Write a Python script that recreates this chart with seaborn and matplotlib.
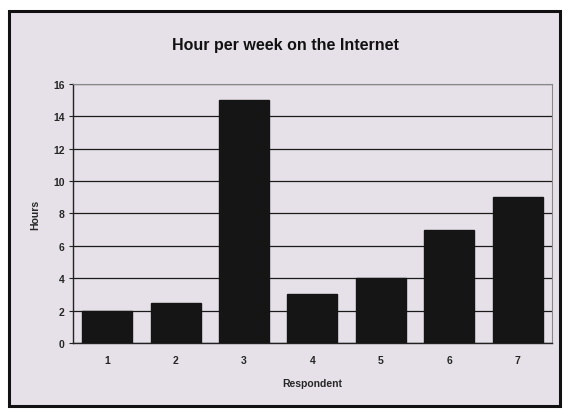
import matplotlib
matplotlib.use("Agg")
import matplotlib.pyplot as plt
import seaborn as sns
import pandas as pd
from matplotlib.patches import Rectangle

respondents = ["1", "2", "3", "4", "5", "6", "7"]
hours = [2, 2.5, 15, 3, 4, 7, 9]
y_ticks = [0, 2, 4, 6, 8, 10, 12, 14, 16]

title = "Hour per week on the Internet"
x_label = "Respondent"
y_label = "Hours"

bg = "#e6e1e8"
bar_color = "#151515"

sns.set_theme(style="white")
plt.rcParams["font.family"] = ["Liberation Sans", "DejaVu Sans"]

df = pd.DataFrame({"Respondent": respondents, "Hours": hours})

fig = plt.figure(figsize=(5.67, 4.10), dpi=100)
fig.patch.set_facecolor("white")

# chart frame, drawn behind the axes
frame = Rectangle((0.016, 0.008), 0.972, 0.962, transform=fig.transFigure,
                  facecolor=bg, edgecolor="#111111", linewidth=2.2, zorder=-5)
fig.patches.append(frame)

ax = fig.add_axes([0.1287, 0.161, 0.8448, 0.6317])
ax.set_zorder(2)
ax.set_facecolor(bg)

sns.barplot(data=df, x="Respondent", y="Hours", color=bar_color,
            width=0.73, saturation=1, ax=ax, zorder=3)
for p in ax.patches:
    p.set_edgecolor(bar_color)

ax.set_ylim(0, 16)
ax.set_yticks(y_ticks)
ax.set_yticklabels([str(t) for t in y_ticks], fontsize=7.5, fontweight="bold")
ax.set_xticklabels(respondents, fontsize=7.5, fontweight="bold")
ax.yaxis.grid(True, color="#1a1a1a", linewidth=0.9)
ax.set_axisbelow(True)

for side in ["top", "right"]:
    ax.spines[side].set_color("#888888")
    ax.spines[side].set_linewidth(0.8)
for side in ["left", "bottom"]:
    ax.spines[side].set_color("#222222")
    ax.spines[side].set_linewidth(1.0)

ax.tick_params(axis="y", which="major", length=3, width=0.8, color="#222222",
               left=True, pad=3)
ax.tick_params(axis="x", which="major", length=0, pad=9)

ax.set_xlabel(x_label, fontsize=7.5, fontweight="bold", labelpad=9)
ax.set_ylabel(y_label, fontsize=7.5, fontweight="bold", labelpad=9)

fig.text(0.503, 0.888, title, ha="center", va="center",
         fontsize=11.5, fontweight="bold", color="#111111", zorder=3)

fig.savefig("out.png", dpi=100, facecolor=fig.get_facecolor())
